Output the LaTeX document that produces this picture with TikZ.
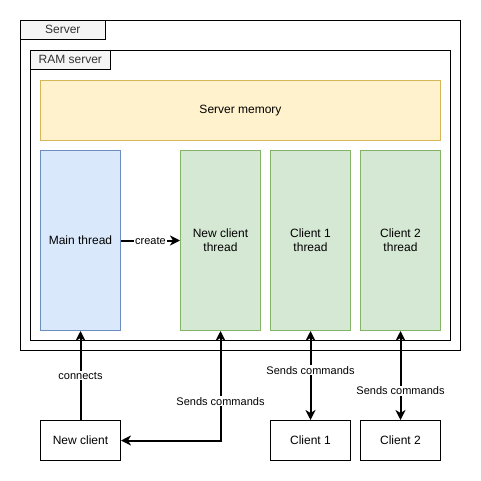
\documentclass[tikz,border=0pt]{standalone}
\usepackage{fontspec}
\setmainfont{Liberation Sans}
\usetikzlibrary{arrows.meta}
\definecolor{memfill}{HTML}{FFF2CC}
\definecolor{memdraw}{HTML}{D6B656}
\definecolor{bluefill}{HTML}{DAE8FC}
\definecolor{bluedraw}{HTML}{6C8EBF}
\definecolor{greenfill}{HTML}{D5E8D4}
\definecolor{greendraw}{HTML}{82B366}
\definecolor{tabfill}{HTML}{F5F5F5}
\definecolor{tabtext}{HTML}{333333}
\begin{document}
\begin{tikzpicture}[x=1pt,y=-1pt,
  every node/.style={font=\fontsize{12}{14}\selectfont},
  box/.style={draw=black, line width=1pt, fill=white, minimum width=80pt, minimum height=40pt, inner sep=0pt, anchor=north west},
  thread/.style={draw=greendraw, fill=greenfill, line width=1pt, minimum width=80pt, minimum height=180pt, inner sep=0pt, anchor=north west, align=center},
  tab/.style={draw=black, line width=0.6pt, fill=tabfill, text=tabtext, inner sep=0pt, anchor=north west, minimum height=19pt},
  tip/.tip={Stealth[length=10pt,width=10pt,inset=3pt]},
  conn/.style={line width=2pt, tip-tip},
  lbl/.style={fill=white, inner sep=1pt, font=\fontsize{11}{13}\selectfont}
]
\useasboundingbox (0,0) rectangle (481,481);
% Server container
\node[draw=black, line width=1pt, minimum width=440pt, minimum height=330pt, inner sep=0pt, anchor=north west] (server) at (20,20) {};
\node[tab, minimum width=85pt] (servertab) at (20,20) {Server};
% RAM server container
\node[draw=black, line width=1pt, minimum width=420pt, minimum height=290pt, inner sep=0pt, anchor=north west] (ram) at (30,50) {};
\node[tab, minimum width=80pt] (ramtab) at (30,50) {RAM server};
% Server memory
\node[draw=memdraw, fill=memfill, line width=1pt, minimum width=400pt, minimum height=60pt, inner sep=0pt, anchor=north west] (mem) at (40,80) {Server memory};
% Threads
\node[draw=bluedraw, fill=bluefill, line width=1pt, minimum width=80pt, minimum height=180pt, inner sep=0pt, anchor=north west] (main) at (40,150) {Main thread};
\node[thread] (nct) at (180,150) {New client\\thread};
\node[thread] (c1t) at (270,150) {Client 1\\thread};
\node[thread] (c2t) at (360,150) {Client 2\\thread};
% Clients
\node[box] (nc) at (40,420) {New client};
\node[box] (c1) at (270,420) {Client 1};
\node[box] (c2) at (360,420) {Client 2};
% Connectors
\draw[line width=2pt, -tip] (main.east) -- node[lbl] {create} (nct.west);
\draw[line width=2pt, -tip] (nc.north) -- node[lbl, pos=0.5] {connects} (main.south);
\coordinate (bend) at (nct.south |- nc.east);
\draw[conn] (nct.south) -- node[lbl, pos=0.64] {Sends commands} (bend) -- (nc.east);
\draw[conn] (c1t.south) -- node[lbl, pos=0.44] {Sends commands} (c1.north);
\draw[conn] (c2t.south) -- node[lbl, pos=0.67] {Sends commands} (c2.north);
\end{tikzpicture}
\end{document}
